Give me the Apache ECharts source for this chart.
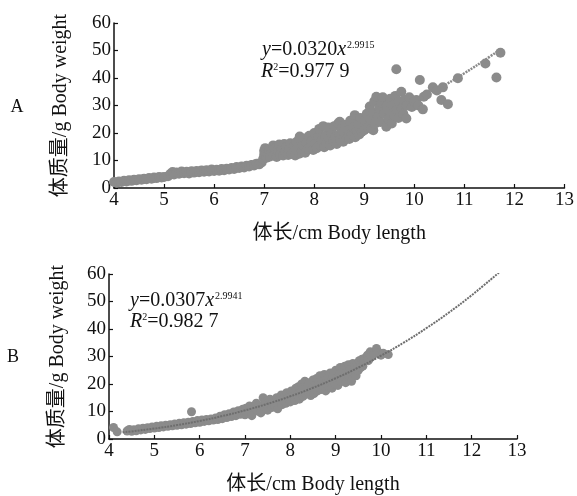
<!DOCTYPE html>
<html>
<head>
<meta charset="utf-8">
<script src="https://cdn.jsdelivr.net/npm/echarts@6/dist/echarts.min.js"></script>
<style>
html,body{margin:0;padding:0;background:#fff;}
#chart{width:577px;height:496px;}
</style>
</head>
<body>
<div id="chart"></div>
<script>
// ---- Data ----
var xTicks = [4, 5, 6, 7, 8, 9, 10, 11, 12, 13];
var yTicks = [0, 10, 20, 30, 40, 50, 60];

// Panel A: body length (cm) vs body weight (g)
var scatterA = [
 [4.0,2.2],[4.05,1.9],[4.1,2.4],[4.15,2.2],[4.2,2.6],[4.25,2.4],[4.3,2.8],[4.35,2.6],[4.4,3.0],[4.45,2.8],
 [4.5,3.2],[4.55,3.0],[4.6,3.4],[4.65,3.2],[4.7,3.6],[4.75,3.4],[4.8,3.8],[4.85,3.6],[4.9,4.0],[4.95,3.8],[5.0,4.0],
 [5.08,4.3],[5.13,5.2],[5.17,5.8],[5.2,4.9],[5.25,5.6],[5.3,5.2],[5.35,6.0],[5.4,5.4],[5.45,5.9],[5.5,5.3],
 [5.55,6.1],[5.6,5.6],[5.65,6.2],[5.7,5.7],[5.75,6.4],[5.8,5.9],[5.85,6.5],[5.9,6.0],[5.95,6.7],[6.0,6.2],
 [6.05,6.6],[6.1,6.3],[6.15,6.9],[6.2,6.5],[6.25,7.0],[6.3,6.7],[6.35,7.3],[6.4,6.9],[6.45,7.6],[6.5,7.3],
 [6.55,7.8],[6.6,7.5],[6.65,8.1],[6.7,7.8],[6.75,8.4],[6.8,8.2],[6.85,8.8],[6.9,8.6],[6.95,9.3],
 [6.98,10.5],[7.0,12.0],[7.0,13.5],[7.02,14.5],[7.05,11.0],
 [7.08,12.5],[7.1,14.0],[7.12,11.5],[7.15,13.0],[7.18,15.5],[7.2,12.0],[7.22,14.5],[7.25,11.3],[7.28,13.5],[7.3,15.8],
 [7.32,12.2],[7.35,14.2],[7.38,11.8],[7.4,16.0],[7.42,13.0],[7.45,15.0],[7.48,12.0],[7.5,14.0],[7.52,16.3],[7.55,12.5],
 [7.58,15.0],[7.6,13.5],[7.62,11.8],[7.65,16.8],[7.68,14.0],[7.7,12.5],[7.71,18.7],
 [7.72,17.5],[7.75,13.5],[7.78,15.5],[7.8,18.0],[7.82,12.8],[7.85,16.5],[7.88,14.2],[7.9,19.0],[7.92,15.0],[7.95,17.2],
 [7.98,13.8],[8.0,20.0],[8.02,16.0],[8.05,14.5],[8.08,18.5],[8.1,21.5],[8.12,15.5],[8.15,17.5],[8.18,22.5],[8.2,14.8],
 [8.22,19.0],[8.25,16.5],[8.28,22.0],[8.3,18.0],
 [8.32,15.5],[8.35,20.0],[8.38,17.0],[8.4,22.5],[8.42,18.5],[8.45,16.0],[8.48,23.5],[8.5,19.5],[8.51,24.1],[8.52,17.5],
 [8.55,21.5],[8.58,16.8],[8.6,20.5],[8.62,23.0],[8.65,18.0],[8.68,21.0],[8.7,17.8],[8.72,24.5],[8.75,19.5],[8.78,22.0],
 [8.81,26.5],[8.82,18.5],[8.85,21.0],[8.88,23.5],[8.9,19.5],[8.92,25.5],[8.95,20.5],[8.98,22.5],
 [9.0,21.0],[9.02,24.5],[9.05,27.0],[9.08,22.0],[9.11,29.6],[9.12,25.0],[9.15,21.5],[9.18,21.0],[9.18,27.5],[9.2,31.5],
 [9.22,23.5],[9.24,33.2],[9.27,26.0],[9.3,29.0],[9.32,24.0],[9.35,31.0],[9.37,33.0],[9.4,27.0],[9.44,22.3],[9.45,30.0],
 [9.48,25.0],[9.5,28.0],[9.52,32.5],[9.55,23.5],[9.58,30.0],[9.6,26.5],[9.62,33.5],[9.65,28.5],[9.68,25.5],[9.7,31.5],
 [9.74,35.0],[9.75,29.0],[9.78,27.0],[9.8,32.0],
 [9.84,25.3],[9.85,30.0],[9.9,33.0],[9.95,29.5],[10.0,31.5],[10.04,32.0],[10.08,30.0],[10.17,28.6],[10.19,33.2],
 [10.25,34.0],[10.37,36.6],[10.45,35.5],[10.57,36.6],[10.54,32.0],[10.67,30.5],
 [9.64,43.2],[10.11,39.3],[10.87,39.9],[11.42,45.3],[11.64,40.2],[11.72,49.2]
];
// fitted curve A: y = 0.0320 x^2.9915
var curveA = [
 [4,2.02],[4.5,2.88],[5,3.95],[5.5,5.25],[6,6.81],[6.5,8.65],[7,10.80],[7.5,13.27],[8,16.10],
 [8.5,19.30],[9,22.90],[9.5,26.92],[10,31.38],[10.5,36.31],[11,41.73],[11.5,47.67],[11.7,50.19]
];

// Panel B
var scatterB = [
 [4.1,4.2],[4.18,2.6],[4.4,2.9],[4.45,3.5],[4.5,2.8],[4.55,3.4],[4.6,3.0],[4.65,3.7],[4.7,3.3],[4.75,3.9],
 [4.8,3.5],[4.85,4.1],[4.9,3.8],[4.95,4.4],[5.0,4.0],[5.05,4.6],[5.1,4.2],[5.15,4.8],[5.2,4.4],[5.25,5.0],
 [5.3,4.6],[5.35,5.2],[5.4,4.8],[5.45,5.5],[5.5,5.0],[5.55,5.7],[5.6,5.2],[5.65,5.9],[5.7,5.4],[5.75,6.1],
 [5.8,5.6],[5.82,9.9],[5.85,6.4],[5.9,5.9],[5.95,6.7],[6.0,6.1],[6.05,6.9],[6.1,6.4],[6.15,7.1],[6.2,6.6],
 [6.25,7.3],[6.3,6.9],[6.35,7.6],[6.4,7.1],[6.45,8.3],[6.5,7.4],[6.55,8.8],[6.6,7.8],[6.65,9.2],[6.7,8.2],
 [6.75,9.8],[6.8,8.5],[6.85,10.3],[6.9,9.0],[6.95,10.8],[7.0,8.8],[7.02,11.2],[7.05,9.5],[7.1,12.0],[7.12,10.0],
 [7.15,8.5],[7.2,11.5],[7.25,13.0],[7.28,10.2],[7.3,12.3],[7.35,9.5],[7.4,15.0],[7.42,11.8],[7.45,13.5],[7.5,10.5],
 [7.52,12.8],[7.55,14.5],[7.6,11.5],[7.62,13.8],[7.65,12.2],[7.7,15.0],[7.72,11.0],[7.75,13.5],[7.8,16.0],[7.82,12.5],
 [7.85,14.8],[7.9,13.0],[7.92,16.8],[7.95,15.0],[8.0,13.5],[8.02,17.5],[8.05,15.5],[8.1,14.0],[8.12,18.5],[8.15,16.0],
 [8.18,19.0],[8.2,14.5],[8.22,17.0],
 [8.25,20.0],[8.28,15.5],[8.3,18.0],[8.32,21.0],[8.35,16.5],[8.38,19.5],[8.4,17.0],[8.42,20.5],[8.45,15.8],[8.48,18.5],
 [8.5,21.5],[8.52,16.5],[8.55,19.5],[8.58,22.0],[8.6,17.5],[8.62,20.5],[8.65,23.0],[8.68,18.0],[8.7,21.5],[8.72,19.0],
 [8.75,23.5],[8.78,17.5],[8.8,20.5],[8.82,22.5],[8.85,19.0],[8.88,24.0],[8.9,21.0],[8.92,18.5],[8.95,23.0],[8.98,20.0],
 [9.0,25.0],[9.02,21.5],[9.05,19.5],[9.08,23.5],[9.1,26.0],[9.12,21.0],[9.15,24.5],[9.18,22.0],[9.2,26.5],[9.22,20.5],
 [9.25,24.0],[9.28,27.0],[9.3,22.5],[9.32,25.5],[9.35,21.0],[9.38,27.5],[9.4,24.0],[9.42,26.5],[9.45,23.0],[9.48,27.5],
 [9.5,25.0],[9.52,28.5],[9.55,26.0],[9.58,29.0],[9.6,26.5],[9.62,28.0],[9.65,29.5],[9.7,30.5],[9.72,28.5],[9.76,31.7],
 [9.8,30.0],[9.85,31.0],[9.9,32.9],[9.95,31.5],[10.0,30.5],[10.05,31.2],[10.16,30.7]
];
// fitted curve B: y = 0.0307 x^2.9941
var curveB = [
 [4.3,2.42],[4.5,2.77],[5,3.80],[5.5,5.06],[6,6.56],[6.5,8.34],[7,10.41],[7.5,12.80],[8,15.53],
 [8.5,18.62],[9,22.09],[9.5,25.97],[10,30.29],[10.5,35.05],[11,40.29],[11.5,46.02],[12,52.28],[12.6,60.50]
];

var panelLabels = ['A', 'B'];
var xName = '体长/cm Body length';
var yName = '体质量/g Body weight';
var eqA = ['0.0320', '2.9915', '0.977 9'];
var eqB = ['0.0307', '2.9941', '0.982 7'];

// ---- Chart ----
var SERIF = '"Liberation Serif", "Times New Roman", "Noto Sans CJK SC", serif';
var chart = echarts.init(document.getElementById('chart'), null, {renderer: 'canvas'});

function xAx(gi, gap) {
  return {
    gridIndex: gi, type: 'value', min: xTicks[0], max: xTicks[xTicks.length - 1], interval: 1,
    name: xName, nameLocation: 'middle', nameGap: gap,
    nameTextStyle: {fontFamily: SERIF, fontSize: 20, color: '#111'},
    axisLine: {onZero: false, lineStyle: {color: '#111', width: 1.5}},
    axisTick: {inside: true, length: 4, lineStyle: {color: '#111', width: 1.2}},
    axisLabel: {fontFamily: SERIF, fontSize: 19, color: '#111', margin: 3},
    splitLine: {show: false}
  };
}
function yAx(gi, gap) {
  return {
    gridIndex: gi, type: 'value', min: yTicks[0], max: yTicks[yTicks.length - 1], interval: 10,
    name: yName, nameLocation: 'middle', nameGap: gap,
    nameTextStyle: {fontFamily: SERIF, fontSize: 20, color: '#111'},
    axisLine: {lineStyle: {color: '#111', width: 1.5}},
    axisTick: {inside: true, length: 4, lineStyle: {color: '#111', width: 1.2}},
    axisLabel: {fontFamily: SERIF, fontSize: 19, color: '#111', margin: 3},
    splitLine: {show: false}
  };
}

function eqText(x, y, coef, expo) {
  return {
    type: 'text', x: x, y: y,
    style: {
      text: '{i|y}{n|=' + coef + '}{i|x}{s|' + expo + '}',
      fill: '#111', verticalAlign: 'middle',
      rich: {
        i: {fontFamily: SERIF, fontStyle: 'italic', fontSize: 20, fill: '#111'},
        n: {fontFamily: SERIF, fontSize: 20, fill: '#111'},
        s: {fontFamily: SERIF, fontSize: 10, fill: '#111', verticalAlign: 'top', padding: [0, 0, 0, 1]}
      }
    }
  };
}
function r2Text(x, y, val) {
  return {
    type: 'text', x: x, y: y,
    style: {
      text: '{i|R}{s|2}{n|=' + val + '}',
      fill: '#111', verticalAlign: 'middle',
      rich: {
        i: {fontFamily: SERIF, fontStyle: 'italic', fontSize: 20, fill: '#111'},
        n: {fontFamily: SERIF, fontSize: 20, fill: '#111'},
        s: {fontFamily: SERIF, fontSize: 10, fill: '#111', verticalAlign: 'top'}
      }
    }
  };
}

var option = {
  animation: false,
  backgroundColor: '#fff',
  grid: [
    {left: 114, top: 23, width: 451, height: 165},
    {left: 109, top: 274, width: 408, height: 168}
  ],
  xAxis: [xAx(0, 36), xAx(1, 36)],
  yAxis: [yAx(0, 43), yAx(1, 41)],
  series: [
    {type: 'line', xAxisIndex: 0, yAxisIndex: 0, data: curveA, smooth: true, showSymbol: false, z: 1,
     lineStyle: {color: '#8a8a8a', width: 2.5, type: [2, 1]}},
    {type: 'scatter', xAxisIndex: 0, yAxisIndex: 0, data: scatterA, symbolSize: 10, z: 2,
     itemStyle: {color: '#8b8b8b', opacity: 1}},
    {type: 'scatter', xAxisIndex: 1, yAxisIndex: 1, data: scatterB, symbolSize: 9, z: 2,
     itemStyle: {color: '#8b8b8b', opacity: 1}},
    {type: 'line', xAxisIndex: 1, yAxisIndex: 1, data: curveB, smooth: true, showSymbol: false, z: 3,
     lineStyle: {color: '#6e6e6e', width: 2, type: [2, 1]}}
  ],
  graphic: [
    {type: 'text', x: 17, y: 107, style: {text: panelLabels[0], font: '18px ' + SERIF, fill: '#111', align: 'center', verticalAlign: 'middle'}},
    {type: 'text', x: 13, y: 357, style: {text: panelLabels[1], font: '18px ' + SERIF, fill: '#111', align: 'center', verticalAlign: 'middle'}},
    eqText(262, 50, eqA[0], eqA[1]),
    r2Text(261, 72, eqA[2]),
    eqText(130, 301, eqB[0], eqB[1]),
    r2Text(130, 322, eqB[2])
  ]
};
chart.setOption(option);
</script>
</body>
</html>
